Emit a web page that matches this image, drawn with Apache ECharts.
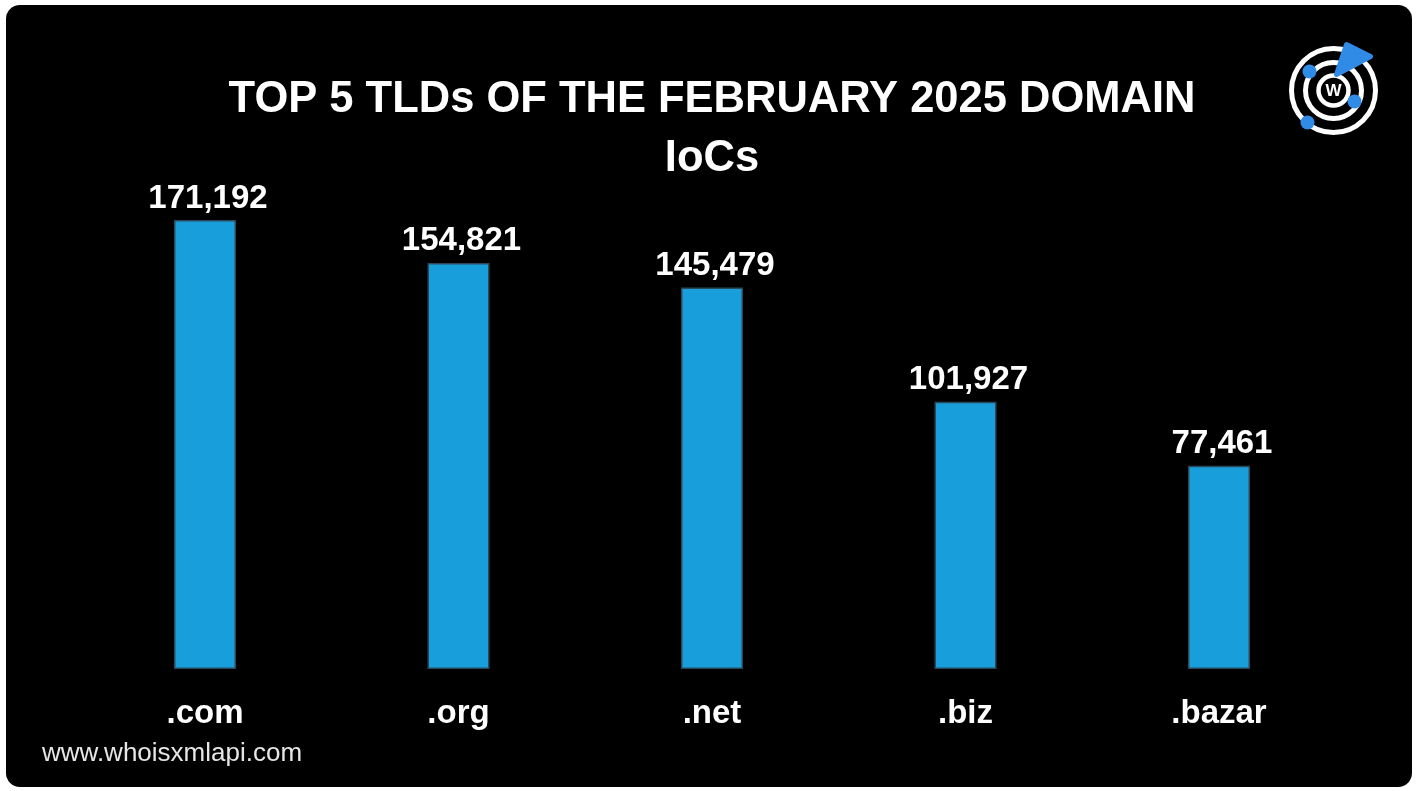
<!DOCTYPE html>
<html>
<head>
<meta charset="utf-8">
<script src="https://cdn.jsdelivr.net/npm/echarts@6/dist/echarts.min.js"></script>
<style>
html,body{margin:0;padding:0;background:#fff;}
#chart{width:1417px;height:791px;}
</style>
</head>
<body>
<div id="chart"></div>
<script>
const categories = ['.com', '.org', '.net', '.biz', '.bazar'];
const values = [171192, 154821, 145479, 101927, 77461];
const titleText = 'TOP 5 TLDs OF THE FEBRUARY 2025 DOMAIN\nIoCs';
const footerText = 'www.whoisxmlapi.com';

const chart = echarts.init(document.getElementById('chart'));
const font = '"Liberation Sans", Arial, Helvetica, sans-serif';

chart.setOption({
  backgroundColor: '#ffffff',
  animation: false,
  title: {
    text: titleText,
    left: 712,
    top: 70,
    textAlign: 'center',
    padding: 0,
    textStyle: {
      color: '#ffffff', fontFamily: font, fontWeight: 'bold',
      fontSize: 43.5, lineHeight: 59
    }
  },
  grid: { left: 78.25, right: 71.25, top: 144.4, bottom: 122 },
  xAxis: {
    type: 'category',
    data: categories,
    axisLine: { show: false },
    axisTick: { show: false },
    axisLabel: {
      color: '#ffffff', fontFamily: font, fontWeight: 'bold',
      fontSize: 33, margin: 28
    }
  },
  yAxis: {
    type: 'value', min: 0, max: 200000, show: false,
    splitLine: { show: false }
  },
  series: [{
    type: 'bar',
    data: values,
    barWidth: 62,
    itemStyle: { color: '#189edb', borderColor: '#2a4a5c', borderWidth: 1.5 },
    label: {
      show: true, position: 'top', distance: 5, offset: [3, 0],
      color: '#ffffff', fontFamily: font, fontWeight: 'bold', fontSize: 33,
      formatter: p => p.value.toLocaleString('en-US')
    }
  }],
  graphic: [
    {
      type: 'rect', z: -10, silent: true,
      shape: { x: 6, y: 5, width: 1406, height: 782, r: 14 },
      style: { fill: '#000000' }
    },
    {
      type: 'text', left: 42, top: 741,
      style: { text: footerText, fill: '#e6e6e6', font: '26px ' + font }
    },
    {
      type: 'group', left: 1289, top: 42,
      children: [
        { type: 'circle', shape: { cx: 47, cy: 51, r: 42 }, style: { fill: 'none', stroke: '#ffffff', lineWidth: 5 } },
        { type: 'circle', shape: { cx: 47, cy: 51, r: 28 }, style: { fill: 'none', stroke: '#ffffff', lineWidth: 5 } },
        { type: 'circle', shape: { cx: 47, cy: 51, r: 15 }, style: { fill: '#000', stroke: '#ffffff', lineWidth: 4.5 } },
        { type: 'text', style: { text: 'W', x: 47, y: 52, align: 'center', verticalAlign: 'middle', fill: '#ffffff', font: 'bold 17px ' + font } },
        { type: 'polygon', shape: { points: [[50, 35], [60, 5], [84, 17]] }, style: { fill: '#2f8be6', stroke: '#2f8be6', lineWidth: 5, lineJoin: 'round' } },
        { type: 'circle', shape: { cx: 23, cy: 32, r: 7 }, style: { fill: '#2f8be6' } },
        { type: 'circle', shape: { cx: 68, cy: 62, r: 7 }, style: { fill: '#2f8be6' } },
        { type: 'circle', shape: { cx: 21, cy: 83, r: 7 }, style: { fill: '#2f8be6' } }
      ]
    }
  ]
});
</script>
</body>
</html>
